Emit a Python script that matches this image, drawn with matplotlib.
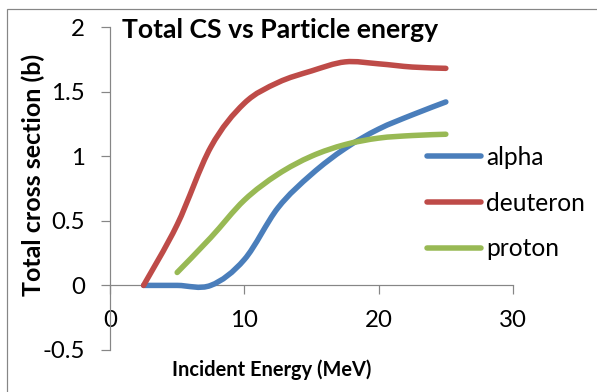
import numpy as np
import matplotlib
matplotlib.use("Agg")
import matplotlib.pyplot as plt
from matplotlib.path import Path
from matplotlib.patches import PathPatch, Rectangle
from matplotlib.lines import Line2D

# ---- data ----
alpha_E = [2.5, 5, 7.5, 10, 12.5, 15, 17.5, 20, 22.5, 25]
alpha_cs = [0.0, 0.0, 0.0, 0.2, 0.6, 0.86, 1.06, 1.21, 1.32, 1.42]
deut_E = [2.5, 5, 7.5, 10, 12.5, 15, 17.5, 20, 22.5, 25]
deut_cs = [0.0, 0.47, 1.07, 1.41, 1.57, 1.66, 1.73, 1.715, 1.69, 1.68]
prot_E = [5, 7.5, 10, 12.5, 15, 17.5, 20, 22.5, 25]
prot_cs = [0.1, 0.37, 0.66, 0.86, 1.0, 1.09, 1.14, 1.16, 1.17]
series_names = ["alpha", "deuteron", "proton"]
colors = ["#4A7EBB", "#BE4B48", "#98B954"]
xticks = [0, 10, 20, 30]
yticks = [-0.5, 0, 0.5, 1, 1.5, 2]
ytick_labels = ["-0.5", "0", "0.5", "1", "1.5", "2"]

FONT = "Lato"
W, H = 597, 392
fig = plt.figure(figsize=(W / 72, H / 72), dpi=72)
fig.patch.set_facecolor("white")

# outer chart border (only top/left visible)
fig.add_artist(Rectangle((7 / W, -0.1), 1.2, 1 - 9 / H + 0.1, transform=fig.transFigure,
                         fill=False, edgecolor="#868686", lw=1.2))

ax = fig.add_axes([110 / W, 1 - 350 / H, (513 - 110) / W, (350 - 27) / H])
ax.set_facecolor("none")
ax.set_xlim(0, 30)
ax.set_ylim(-0.5, 2)

def smooth_path(x, y):
    pts = np.column_stack([x, y]).astype(float)
    n = len(pts)
    verts = [pts[0]]
    codes = [Path.MOVETO]
    for i in range(n - 1):
        p0 = pts[i - 1] if i > 0 else pts[i]
        p1 = pts[i]
        p2 = pts[i + 1]
        p3 = pts[i + 2] if i + 2 < n else pts[i + 1]
        c1 = p1 + (p2 - p0) / 6
        c2 = p2 - (p3 - p1) / 6
        verts += [c1, c2, p2]
        codes += [Path.CURVE4] * 3
    return Path(verts, codes)

for (xe, ye), c in zip([(alpha_E, alpha_cs), (deut_E, deut_cs), (prot_E, prot_cs)], colors):
    ax.add_patch(PathPatch(smooth_path(xe, ye), fill=False, edgecolor=c, lw=5.5,
                           capstyle="round", joinstyle="round", zorder=3))

for s in ["top", "right"]:
    ax.spines[s].set_visible(False)
ax.spines["bottom"].set_position(("data", 0))
for s in ["left", "bottom"]:
    ax.spines[s].set_color("#868686")
    ax.spines[s].set_linewidth(1.2)

ax.set_xticks(xticks)
ax.set_xticklabels([str(t) for t in xticks])
ax.set_yticks(yticks)
ax.set_yticklabels(ytick_labels)
ax.tick_params(axis="both", direction="out", length=9, width=1.2, color="#868686",
               labelsize=24, pad=16, labelcolor="black")
for lab in ax.get_xticklabels() + ax.get_yticklabels():
    lab.set_fontfamily(FONT)

fig.text(122 / W, 1 - 38 / H, "Total CS vs Particle energy", fontsize=26.5, fontweight="bold",
         fontfamily=FONT, ha="left", va="baseline")
fig.text(272 / W, 1 - 370 / H, "Incident Energy (MeV)", fontsize=20, fontweight="bold",
         fontfamily=FONT, ha="center", va="center")
fig.text(33 / W, 1 - 175 / H, "Total cross section (b)", fontsize=25, fontweight="bold",
         fontfamily=FONT, ha="center", va="center", rotation=90)

handles = [Line2D([0], [0], color=c, lw=5.5, solid_capstyle="round") for c in colors]
leg = fig.legend(handles, series_names, loc="upper left",
                 bbox_to_anchor=(427 / W, 1 - 146 / H), frameon=False,
                 prop={"family": FONT, "size": 24.5}, handlelength=2.2, handletextpad=0.2,
                 labelspacing=0.92, borderaxespad=0, borderpad=0)

fig.savefig("out.png", dpi=72, facecolor="white")
